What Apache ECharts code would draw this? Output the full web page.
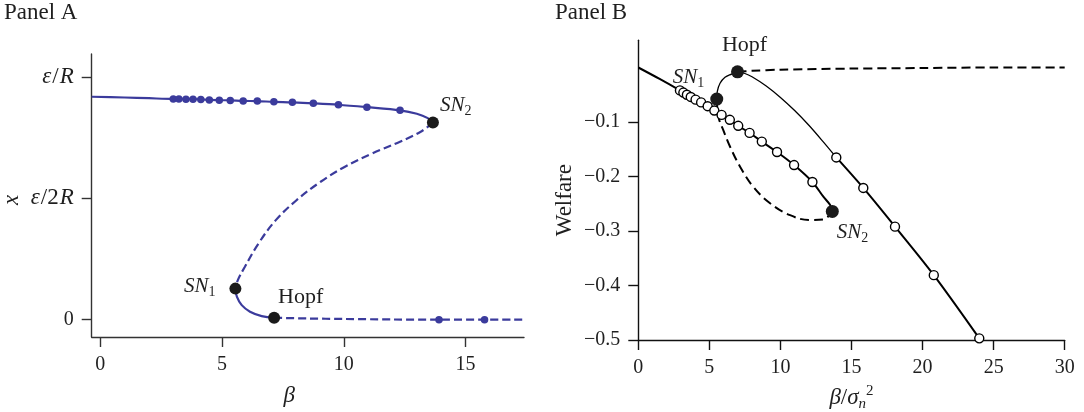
<!DOCTYPE html>
<html>
<head>
<meta charset="utf-8">
<script src="https://cdn.jsdelivr.net/npm/echarts@6/dist/echarts.min.js"></script>
<style>html,body{margin:0;padding:0;background:#fff}#c{width:1084px;height:412px}</style>
</head>
<body>
<div id="c"></div>
<script>
// ---------- Panel A data (x in units of eps/R) ----------
const aUpperBeta = [-0.35, 1.0, 2.0, 3.00, 3.23, 3.52, 3.81, 4.13, 4.48, 4.89, 5.34, 5.87, 6.45, 7.13, 7.89, 8.75, 9.78, 10.95, 12.31, 13.0, 13.45, 13.66];
const aUpperX    = [0.918, 0.915, 0.912, 0.909, 0.909, 0.908, 0.908, 0.907, 0.905, 0.904, 0.903, 0.901, 0.900, 0.897, 0.895, 0.891, 0.885, 0.875, 0.862, 0.848, 0.830, 0.812];
const aDotBeta   = [3.00, 3.23, 3.52, 3.81, 4.13, 4.48, 4.89, 5.34, 5.87, 6.45, 7.13, 7.89, 8.75, 9.78, 10.95, 12.31];
const aDotX      = [0.909, 0.909, 0.908, 0.908, 0.907, 0.905, 0.904, 0.903, 0.901, 0.900, 0.897, 0.895, 0.891, 0.885, 0.875, 0.862];
const aUnstBeta  = [13.66, 13.16, 12.31, 11.18, 10.05, 9.05, 8.06, 7.21, 6.50, 5.94, 5.65, 5.55];
const aUnstX     = [0.812, 0.774, 0.733, 0.685, 0.630, 0.568, 0.492, 0.410, 0.314, 0.218, 0.163, 0.128];
const aLowSolidBeta = [5.55, 5.61, 5.81, 6.15, 6.63, 7.14];
const aLowSolidX    = [0.128, 0.095, 0.060, 0.033, 0.015, 0.008];
const aLowDashBeta  = [7.14, 8.5, 10.0, 12.0, 14.0, 17.4];
const aLowDashX     = [0.008, 0.005, 0.003, 0.001, 0.0, 0.0];
const aLowDotBeta   = [13.91, 15.78];
const aLowDotX      = [0.0, 0.0];
const aBifNames = ['SN1', 'Hopf', 'SN2'];
const aBifBeta  = [5.55, 7.14, 13.66];
const aBifX     = [0.128, 0.008, 0.812];
const aXTicks = [0, 5, 10, 15];
const aYTicks = [0, 0.5, 1];
const aYTickLabels = ['0', '{i|ε}{n|/2}{i|R}', '{i|ε}{n|/}{i|R}'];

// ---------- Panel B data ----------
const bStableBeta = [0, 1.5, 2.93, 3.17, 3.42, 3.69, 4.03, 4.42, 4.88, 5.35, 5.86, 6.44, 7.03, 7.83, 8.69, 9.76, 10.96, 12.25, 13.02, 13.49, 13.65];
const bStableW    = [0.0, -0.021, -0.042, -0.046, -0.050, -0.054, -0.059, -0.064, -0.071, -0.079, -0.087, -0.096, -0.107, -0.120, -0.136, -0.155, -0.179, -0.210, -0.237, -0.252, -0.264];
const bStableDotBeta = [2.93, 3.17, 3.42, 3.69, 4.03, 4.42, 4.88, 5.35, 5.86, 6.44, 7.03, 7.83, 8.69, 9.76, 10.96, 12.25];
const bStableDotW    = [-0.042, -0.046, -0.050, -0.054, -0.059, -0.064, -0.071, -0.079, -0.087, -0.096, -0.107, -0.120, -0.136, -0.155, -0.179, -0.210];
const bLoopBeta = [5.52, 5.56, 5.68, 5.98, 6.45, 7.16, 8.09, 9.27, 10.68, 12.08, 13.02, 13.65];
const bLoopW    = [-0.058, -0.075, -0.095, -0.115, -0.145, -0.182, -0.219, -0.249, -0.271, -0.280, -0.279, -0.264];
const bRiseBeta = [5.52, 5.56, 5.75, 6.10, 6.57, 6.98];
const bRiseW    = [-0.058, -0.044, -0.029, -0.018, -0.012, -0.008];
const bHopfThinBeta = [6.98, 7.5, 8.0, 9.0, 10.0, 11.0, 12.0, 13.0, 13.93];
const bHopfThinW    = [-0.008, -0.011, -0.017, -0.034, -0.055, -0.079, -0.106, -0.136, -0.165];
const bHopfThickBeta = [13.93, 15.83, 18.06, 20.79, 23.99];
const bHopfThickW    = [-0.165, -0.221, -0.292, -0.381, -0.497];
const bHopfDotBeta = [13.93, 15.83, 18.06, 20.79, 23.99];
const bHopfDotW    = [-0.165, -0.221, -0.292, -0.381, -0.497];
const bTopDashBeta = [6.98, 8.0, 10.0, 15.0, 20.0, 25.0, 30.0];
const bTopDashW    = [-0.008, -0.006, -0.004, -0.002, -0.001, 0.0, 0.0];
const bBifNames = ['SN1', 'Hopf', 'SN2'];
const bBifBeta  = [5.52, 6.98, 13.65];
const bBifW     = [-0.058, -0.008, -0.264];
const bYTicks = [-0.5, -0.4, -0.3, -0.2, -0.1];

// ---------- styling ----------
const FONT = 'Liberation Serif';
const BLUE = '#3b3b9c';
const TXT = '#1f1f1f';
const AX = '#333333';
const zip = (a, b) => a.map((v, i) => [v, b[i]]);

const mathRich = {
  i: { fontFamily: FONT, fontStyle: 'italic', fontSize: 21, color: TXT, lineHeight: 26 },
  n: { fontFamily: FONT, fontSize: 21, color: TXT, lineHeight: 26 },
  s: { fontFamily: FONT, fontSize: 14, color: TXT, lineHeight: 14, verticalAlign: 'bottom' },
  p: { fontFamily: FONT, fontSize: 14, color: TXT, lineHeight: 14, verticalAlign: 'top' },
  h: { fontFamily: FONT, fontSize: 22, color: TXT, lineHeight: 26 }
};
const bifLabelText = { SN1: '{i|SN}{s|1}', SN2: '{i|SN}{s|2}', Hopf: '{h|Hopf}' };
const aLabelPos = {
  SN1: { position: 'left', offset: [-9, -2] },
  Hopf: { position: 'right', offset: [-7, -21] },
  SN2: { position: 'right', offset: [-4, -17] }
};
const bLabelPos = {
  SN1: { position: 'left', offset: [-1, -22] },
  Hopf: { position: 'top', offset: [7, -2] },
  SN2: { position: 'right', offset: [-7, 21] }
};
function bifData(names, xs, ys, posMap) {
  return names.map((nm, i) => ({
    value: [xs[i], ys[i]],
    label: Object.assign({ show: true, formatter: bifLabelText[nm], rich: mathRich }, posMap[nm])
  }));
}

const axisLineA = { onZero: false, lineStyle: { color: AX, width: 1.4 } };
const axisLineB = { onZero: false, lineStyle: { color: '#111', width: 1.4 } };
const tickStyle = { show: true, length: 10, inside: false, lineStyle: { color: AX, width: 1.4 } };
const labelBase = { fontFamily: FONT, fontSize: 20, color: TXT, margin: 18 };

const chart = echarts.init(document.getElementById('c'), null, { renderer: 'canvas' });
chart.setOption({
  animation: false,
  backgroundColor: '#ffffff',
  title: [
    { text: 'Panel A', left: 4, top: 1, padding: 0, textStyle: { fontFamily: FONT, fontSize: 23, fontWeight: 'normal', color: TXT } },
    { text: 'Panel B', left: 555, top: 1, padding: 0, textStyle: { fontFamily: FONT, fontSize: 23, fontWeight: 'normal', color: TXT } }
  ],
  grid: [
    { left: 91.7, top: 54, width: 432.3, height: 283, containLabel: false, outerBoundsMode: 'none' },
    { left: 638.3, top: 40.25, width: 426.4, height: 299.75, containLabel: false, outerBoundsMode: 'none' }
  ],
  xAxis: [
    {
      gridIndex: 0, type: 'value', min: -0.35, max: 17.4,
      axisLine: axisLineA, splitLine: { show: false },
      axisTick: Object.assign({ customValues: aXTicks }, tickStyle),
      axisLabel: Object.assign({ customValues: aXTicks }, labelBase),
      name: '{i|β}', nameLocation: 'middle', nameGap: 47,
      nameTextStyle: { rich: { i: { fontFamily: FONT, fontStyle: 'italic', fontSize: 23, color: TXT } }, padding: [0, 37, 0, 0] }
    },
    {
      gridIndex: 1, type: 'value', min: 0, max: 30, interval: 5,
      axisLine: axisLineB, splitLine: { show: false },
      axisTick: Object.assign({}, tickStyle, { lineStyle: { color: '#111', width: 1.4 } }),
      axisLabel: labelBase,
      name: '{i|β}{n|/}{i|σ}{s|n}{p|2}', nameLocation: 'middle', nameGap: 44,
      nameTextStyle: { rich: {
        i: { fontFamily: FONT, fontStyle: 'italic', fontSize: 23, color: TXT, lineHeight: 28 },
        n: { fontFamily: FONT, fontSize: 23, color: TXT, lineHeight: 28 },
        s: { fontFamily: FONT, fontStyle: 'italic', fontSize: 15, color: TXT, lineHeight: 15, verticalAlign: 'bottom' },
        p: { fontFamily: FONT, fontSize: 15, color: TXT, lineHeight: 15, verticalAlign: 'top' }
      } }
    }
  ],
  yAxis: [
    {
      gridIndex: 0, type: 'value', min: -0.0712, max: 1.094,
      axisLine: axisLineA, splitLine: { show: false },
      axisTick: Object.assign({ customValues: aYTicks }, tickStyle),
      axisLabel: Object.assign({
        customValues: aYTicks,
        formatter: v => aYTickLabels[aYTicks.indexOf(Math.round(v * 10) / 10)] || '',
        rich: {
          i: { fontFamily: FONT, fontStyle: 'italic', fontSize: 23, color: TXT },
          n: { fontFamily: FONT, fontSize: 23, color: TXT, padding: [0, 1, 0, 1] }
        }
      }, labelBase),
      name: '{i|x}', nameLocation: 'middle', nameRotate: 90, nameGap: 68,
      nameTextStyle: { rich: { i: { fontFamily: FONT, fontStyle: 'italic', fontSize: 23, color: TXT } }, padding: [0, 9, 0, 0] }
    },
    {
      gridIndex: 1, type: 'value', min: -0.5, max: 0.05,
      axisLine: axisLineB, splitLine: { show: false },
      axisTick: Object.assign({}, tickStyle, { customValues: bYTicks, lineStyle: { color: '#111', width: 1.4 } }),
      axisLabel: Object.assign({ customValues: bYTicks, formatter: v => '\u2212' + Math.abs(v).toFixed(1) }, labelBase),
      name: 'Welfare', nameLocation: 'middle', nameRotate: 90, nameGap: 62,
      nameTextStyle: { fontFamily: FONT, fontSize: 23, color: TXT, padding: [0, 20, 0, 0] }
    }
  ],
  series: [
    // ----- Panel A -----
    { type: 'line', xAxisIndex: 0, yAxisIndex: 0, data: zip(aUpperBeta, aUpperX), showSymbol: false, smooth: 0.3, z: 2,
      lineStyle: { color: BLUE, width: 2.2 } },
    { type: 'line', xAxisIndex: 0, yAxisIndex: 0, data: zip(aUnstBeta, aUnstX), showSymbol: false, smooth: 0.4, z: 2,
      lineStyle: { color: BLUE, width: 2.2, type: [8, 4] } },
    { type: 'line', xAxisIndex: 0, yAxisIndex: 0, data: zip(aLowSolidBeta, aLowSolidX), showSymbol: false, smooth: 0.4, z: 2,
      lineStyle: { color: BLUE, width: 2.2 } },
    { type: 'line', xAxisIndex: 0, yAxisIndex: 0, data: zip(aLowDashBeta, aLowDashX), showSymbol: false, smooth: 0.3, z: 2,
      lineStyle: { color: BLUE, width: 2.2, type: [8, 4] } },
    { type: 'scatter', xAxisIndex: 0, yAxisIndex: 0, data: zip(aDotBeta, aDotX), symbolSize: 7.5, z: 3,
      itemStyle: { color: BLUE, opacity: 1 } },
    { type: 'scatter', xAxisIndex: 0, yAxisIndex: 0, data: zip(aLowDotBeta, aLowDotX), symbolSize: 7.5, z: 3,
      itemStyle: { color: BLUE, opacity: 1 } },
    { type: 'scatter', xAxisIndex: 0, yAxisIndex: 0, data: bifData(aBifNames, aBifBeta, aBifX, aLabelPos), symbolSize: 12, z: 4,
      itemStyle: { color: '#1a1a1a', opacity: 1 } },
    // ----- Panel B -----
    { type: 'line', xAxisIndex: 1, yAxisIndex: 1, data: zip(bStableBeta, bStableW), showSymbol: false, smooth: 0.3, z: 2,
      lineStyle: { color: '#000', width: 2 } },
    { type: 'line', xAxisIndex: 1, yAxisIndex: 1, data: zip(bLoopBeta, bLoopW), showSymbol: false, smooth: 0.4, z: 2,
      lineStyle: { color: '#000', width: 2, type: [9, 5] } },
    { type: 'line', xAxisIndex: 1, yAxisIndex: 1, data: zip(bRiseBeta, bRiseW), showSymbol: false, smooth: 0.4, z: 2,
      lineStyle: { color: '#000', width: 1.3 } },
    { type: 'line', xAxisIndex: 1, yAxisIndex: 1, data: zip(bHopfThinBeta, bHopfThinW), showSymbol: false, smooth: 0.3, z: 2,
      lineStyle: { color: '#000', width: 1.3 } },
    { type: 'line', xAxisIndex: 1, yAxisIndex: 1, data: zip(bHopfThickBeta, bHopfThickW), showSymbol: false, smooth: 0.3, z: 2,
      lineStyle: { color: '#000', width: 2 } },
    { type: 'line', xAxisIndex: 1, yAxisIndex: 1, data: zip(bTopDashBeta, bTopDashW), showSymbol: false, smooth: 0.3, z: 2,
      lineStyle: { color: '#000', width: 2, type: [9, 5] } },
    { type: 'scatter', xAxisIndex: 1, yAxisIndex: 1, data: zip(bStableDotBeta, bStableDotW), symbolSize: 9, z: 3,
      itemStyle: { color: '#fff', borderColor: '#000', borderWidth: 1.4, opacity: 1 } },
    { type: 'scatter', xAxisIndex: 1, yAxisIndex: 1, data: zip(bHopfDotBeta, bHopfDotW), symbolSize: 9, z: 3,
      itemStyle: { color: '#fff', borderColor: '#000', borderWidth: 1.4, opacity: 1 } },
    { type: 'scatter', xAxisIndex: 1, yAxisIndex: 1, data: bifData(bBifNames, bBifBeta, bBifW, bLabelPos), symbolSize: 13, z: 4,
      itemStyle: { color: '#1a1a1a', opacity: 1 } }
  ]
});
</script>
</body>
</html>
